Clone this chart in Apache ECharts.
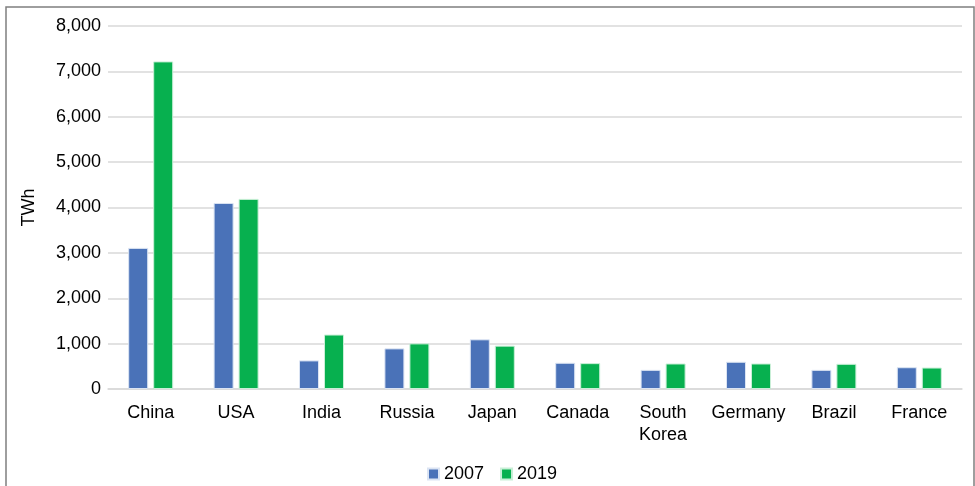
<!DOCTYPE html>
<html>
<head>
<meta charset="utf-8">
<script src="https://cdn.jsdelivr.net/npm/echarts@6/dist/echarts.min.js"></script>
<style>
  html, body { margin: 0; padding: 0; background: #fff; }
  #chart { width: 975px; height: 486px; }
</style>
</head>
<body>
<div id="chart"></div>
<script>
const countries = ['China', 'USA', 'India', 'Russia', 'Japan', 'Canada', 'South\nKorea', 'Germany', 'Brazil', 'France'];
const values2007 = [3110, 4100, 630, 895, 1095, 578, 422, 600, 422, 480];
const values2019 = [7220, 4190, 1200, 1005, 955, 570, 562, 562, 555, 473];

const chart = echarts.init(document.getElementById('chart'));

const font = 'Liberation Sans, Arial, sans-serif';

chart.setOption({
    animation: false,
    textStyle: { fontFamily: font },
    graphic: [
        {
            type: 'rect',
            shape: { x: 6, y: 7, width: 968, height: 490 },
            style: { fill: 'none', stroke: '#7f7f7f', lineWidth: 1.5 }
        }
    ],
    grid: {
        left: 108,
        right: 13,
        top: 26,
        bottom: 97
    },
    legend: {
        top: 465,
        left: 427,
        padding: 0,
        itemWidth: 11,
        itemHeight: 11,
        itemGap: 16,
        icon: 'rect',
        textStyle: { fontSize: 18, color: '#000', fontFamily: font },
        data: ['2007', '2019']
    },
    xAxis: {
        type: 'category',
        data: countries,
        axisTick: { show: false },
        axisLine: { lineStyle: { color: '#d9d9d9', width: 1.5 } },
        axisLabel: { fontSize: 18, color: '#000', margin: 13, lineHeight: 22, interval: 0 }
    },
    yAxis: {
        type: 'value',
        min: 0,
        max: 8000,
        interval: 1000,
        name: 'TWh',
        nameLocation: 'middle',
        nameGap: 70,
        nameRotate: 90,
        nameTextStyle: { fontSize: 18, color: '#000' },
        axisLabel: {
            fontSize: 18,
            color: '#000',
            margin: 7,
            formatter: v => v.toLocaleString('en-US')
        },
        splitLine: { lineStyle: { color: '#d9d9d9', width: 1.5 } }
    },
    series: [
        {
            name: '2007',
            type: 'bar',
            data: values2007,
            barWidth: 20,
            barGap: '25%',
            itemStyle: { color: '#4a72b8', borderColor: '#dbe4f3', borderWidth: 1 }
        },
        {
            name: '2019',
            type: 'bar',
            data: values2019,
            barWidth: 20,
            itemStyle: { color: '#07b04f', borderColor: '#c9efd7', borderWidth: 1 }
        }
    ]
});
</script>
</body>
</html>
